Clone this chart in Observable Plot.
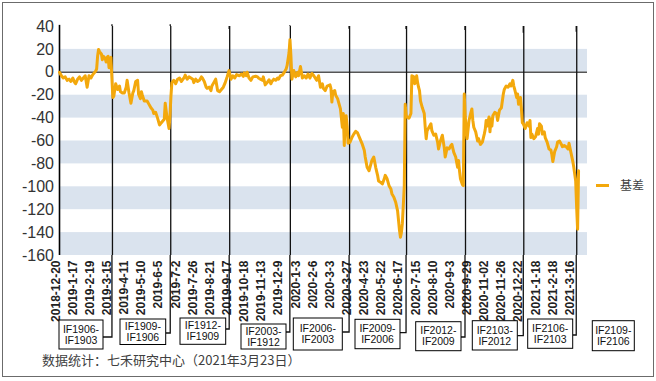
<!DOCTYPE html>
<html><head><meta charset="utf-8">
<script src="https://cdn.jsdelivr.net/npm/d3@7"></script>
<script src="https://cdn.jsdelivr.net/npm/@observablehq/plot@0.6"></script>
<style>
body{margin:0;background:#fff;}
#wrap{position:relative;width:656px;height:381px;overflow:hidden;font-family:"Liberation Sans",Arial,sans-serif;background:#fff;}
#frame{position:absolute;left:2px;top:2px;width:652px;height:375px;border:1.5px solid #6b6b6b;box-sizing:border-box;pointer-events:none;}
#chart{position:absolute;left:0;top:0;}
#legend{position:absolute;left:596px;top:176px;font-family:"Noto Sans CJK SC",sans-serif;font-size:12px;color:#404040;white-space:nowrap;}
#legend span.sw{display:inline-block;width:13px;height:3px;background:#f3a80c;vertical-align:middle;margin-right:11px;position:relative;top:-1px;}
#caption{position:absolute;left:42px;top:350px;font-family:"Noto Sans CJK SC",sans-serif;font-size:13px;color:#404040;white-space:nowrap;}
</style></head>
<body>
<div id="wrap">
  <div id="chart"></div>
  <div id="legend"><span class="sw"></span>基差</div>
  <div id="caption">数据统计：七禾研究中心（2021年3月23日）</div>
  <div id="frame"></div>
</div>
<script>
// ---- data ----
const tickLabels = ["2018-12-20","2019-1-17","2019-2-19","2019-3-15","2019-4-11","2019-5-10","2019-6-5","2019-7-2","2019-7-26","2019-8-21","2019-9-17","2019-10-18","2019-11-13","2019-12-9","2020-1-3","2020-2-6","2020-3-3","2020-3-27","2020-4-23","2020-5-22","2020-6-17","2020-7-15","2020-8-10","2020-9-3","2020-9-29","2020-11-02","2020-11-26","2020-12-22","2021-1-18","2021-2-18","2021-3-16"];
const tickStep = 18; // trading days between labels
const yTicks = [40,20,0,-20,-40,-60,-80,-100,-120,-140,-160];
const bandRanges = [[0,20],[-40,-20],[-80,-60],[-120,-100],[-160,-140]];

// trading-day index and basis values
const dayIdx = [
0,2,4,6,8,10,12,14,16,17,19,21,23,25,27,29,31,33,35,37,38,39,40,41,42,44,45,46,48,49,50,51,52,53,54,
56,57,59,61,63,64,66,68,70,71,73,75,77,78,80,82,83,85,86,87,89,92,94,96,98,99,101,103,105,106,108,110,111,113,115,116,117,
118,120,122,124,126,128,131,132,134,136,138,140,141,143,145,147,149,150,152,154,155,157,159,160,162,164,166,168,170,172,174,176,178,
180,182,184,186,189,191,193,194,196,197,199,201,203,206,208,209,211,213,214,216,218,220,222,223,225,227,229,230,232,234,236,238,239,241,242,243,
244,246,248,250,251,253,255,257,259,261,263,265,267,270,272,274,276,277,279,281,284,285,286,287,289,290,292,293,295,297,298,299,300,301,302,303,
305,307,309,311,313,315,318,320,321,323,325,327,328,330,332,334,335,337,339,341,342,344,346,348,349,351,353,355,356,357,358,359,360,362,
363,364,365,367,369,370,372,373,375,376,377,378,379,381,383,384,385,386,388,390,391,393,395,397,398,400,402,404,405,407,409,411,412,414,416,418,419,420,421,423,424,
425,426,428,430,432,433,434,435,437,439,440,442,444,446,447,448,449,451,452,453,454,455,457,459,460,462,464,466,467,469,471,473,474,476,477,478,480,481,482,484,485,486,
487,489,491,493,494,495,496,498,500,502,503,504,506,507,509,510,512,514,516,517,518,520,522,523,525,527,528,530,532,534,535,537,539,540,542,543,544,545];
const basis = [
0,-3,-5,-4,-7,-6,-8,-5,-9,-10,-6,-4,-7,-5,-3,-13,-3,-5,-2,0,1,3,14,20,18,16,11,14,12,9,13,14,4,12,13,
-22,-21,-10,-15,-12,-17,-18,-18,-13,-7,-18,-27,-18,-16,-8,-7,-19,-23,-17,-20,-25,-25,-28,-31,-33,-36,-35,-40,-46,-45,-43,-41,-27,-40,-49,-38,-21,
-9,-7,-10,-6,-5,-8,-4.5,-2.5,-6,-4,-5,-6,-9,-6,-8,-7,-4,-5,-8,-13,-14,-13,-16,-12,-9,-6,-16,-17,-15,-13,-9,-4,1.5,
-6,-3,-5,-2,-3,-1.5,-3.5,-0.5,-3,0,-5,-7,-4,-3.5,-4,-5,-6,-7,-4,-11,-9,-6.5,-10,-8,-6,-7,-5,-6,-3,-2.5,0,3,6,17,28.5,14,
-6,1.5,-4,0,-3,5,-5,-3,-5,-1.5,-5,-1,-3,-7,-3,-13,-10,-14,-16,-12,-11,-14,-26,-17,-16,-20,-23,-26,-32,-48,-36,-64,-42,-38,-47,-62,
-61,-57,-54,-51.5,-53,-57,-63,-68,-74,-83,-86,-80,-77,-74,-83,-90,-95,-96,-97.5,-93,-90,-93,-99,-102,-106,-109,-113.5,-121,-129.5,-138,-144,-140,-132,-100,
-28,-38,-39,-40,-36,-3,-4,-10,-3,-9,-13,-16,-25,-31,-36,-48,-58,-51,-48,-45,-51,-55,-54,-61,-67,-60,-55,-66,-74,-66,-67,-64,-63,-70,-74,-83,-77,-86,-93,-98,-99,
-19,-39,-58,-42,-35,-32,-42,-48,-52,-60,-58,-63,-61,-54,-50,-42,-47,-39,-52,-41,-47,-38,-35,-36,-42,-33,-31,-19,-15,-12,-13,-10,-12,-7,-12,-15,-22,-19,-28,-22,-32,-44,
-45,-49,-44,-47,-42,-57,-54,-58,-56,-49,-54,-45,-47,-54,-52,-57,-61,-67,-68,-72,-78,-69,-65,-61,-60,-63,-65,-64,-65,-67,-62,-70,-78,-83,-95,-118,-137,-86];

// contract roll points (trading-day index) and the contract pairs
const rollIdx = [55.6,116.8,178.7,242.4,304.6,364.4,426.3,487.5,543.1];
const pairTop = ["IF1906-","IF1909-","IF1912-","IF2003-","IF2006-","IF2009-","IF2012-","IF2103-","IF2106-","IF2109-"];
const pairBottom = ["IF1903","IF1906","IF1909","IF1912","IF2003","IF2006","IF2009","IF2012","IF2103","IF2106"];

// ---- layout (pixels) ----
const ruleTopPx = [24.3,24.3,29,25.3,28.7,29,30,32.7,31.7];
const connY = [337,333,329,332,332,332.7,337,335.7,335];
const boxes = [[59,320,44,29],[120,319,45.7,25.5],[180,318,45.7,26.3],[241,324,45,25],[293.3,318,49,32],[355,319.3,45,29.4],[415.7,321.7,45.3,29],[472.3,320.7,45,29.3],[527.7,319,45,29.3],[592.3,320.7,42,30]];
const xMax = 554.4;
const FONT = "'Liberation Sans', Arial, sans-serif";

const series = dayIdx.map((d,i)=>({i:d, v:basis[i]}));
const bands = bandRanges.map(([a,b])=>({y1:a,y2:b}));

const plot = Plot.plot({
  width: 656, height: 381,
  marginLeft: 59, marginRight: 69, marginTop: 26, marginBottom: 126,
  x: {domain: [0, xMax], axis: null},
  y: {domain: [-160, 40], axis: null},
  style: {fontFamily: FONT, background: "transparent", overflow: "visible"},
  marks: [
    Plot.rect(bands, {x1: 0, x2: xMax, y1: "y1", y2: "y2", fill: "#dae3ee"}),
    Plot.ruleY([0], {x1: 0, x2: xMax, stroke: "#555", strokeWidth: 1.6}),
    Plot.text(tickLabels, {x: (d,i)=>i*tickStep, frameAnchor: "bottom", dy: 5, text: d=>d, rotate: -90, textAnchor: "end", fontSize: 12, fontWeight: "bold", fill: "#222"}),
    Plot.text(yTicks, {y: d=>d, frameAnchor: "left", dx: -5.5, text: d=>String(d), textAnchor: "end", fontSize: 16, fill: "#333"}),
    Plot.ruleX(rollIdx, {x: d=>d, y1: -160, y2: 40, stroke: "#111", strokeWidth: 1.3}),
    Plot.ruleX([0], {y1: -160, y2: 41, stroke: "#000", strokeWidth: 1.6}),
    Plot.line(series, {x: "i", y: "v", stroke: "#f3a80c", strokeWidth: 3, strokeLinejoin: "round"})
  ]
});
document.getElementById("chart").appendChild(plot);

// annotations: extend roll lines to their contract boxes
const xs = plot.scale("x"), ys = plot.scale("y");
const svg = d3.select(plot);
const yBottom = ys.apply(-160);
const ann = svg.append("g");
rollIdx.forEach((d,i)=>{
  const x = xs.apply(d);
  const b = boxes[i];
  ann.append("path")
    .attr("d", `M${x},${ruleTopPx[i]}V${ys.apply(40)}M${x},${yBottom}V${connY[i]}H${b[0]+b[2]}`)
    .attr("fill","none").attr("stroke","#111").attr("stroke-width",1.3);
});
boxes.forEach((b,i)=>{
  ann.append("rect").attr("x",b[0]).attr("y",b[1]).attr("width",b[2]).attr("height",b[3])
    .attr("fill","#fff").attr("stroke","#000").attr("stroke-width",1);
  const cx = b[0]+b[2]/2, cy = b[1]+b[3]/2;
  [[pairTop[i],-5.5],[pairBottom[i],5.5]].forEach(([t,o])=>{
    ann.append("text").attr("x",cx).attr("y",cy+o).attr("dy","0.35em").attr("text-anchor","middle")
      .style("font-family",FONT).style("font-size","10.5px").attr("fill","#111").text(t);
  });
});
</script>
</body></html>
